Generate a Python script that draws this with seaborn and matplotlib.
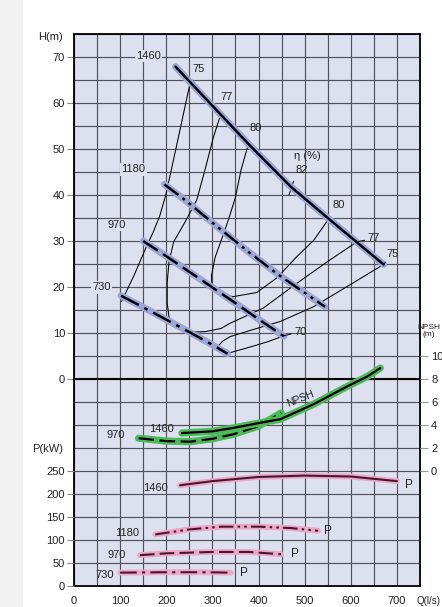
import matplotlib
matplotlib.use("Agg")
import matplotlib.pyplot as plt
import seaborn as sns
from matplotlib.patches import Rectangle

sns.set_style("white")
plt.rcParams["font.family"] = ["Liberation Sans", "DejaVu Sans"]
plt.rcParams["font.size"] = 8

# ---- Head curves H(Q), Q in l/s, H in m, per pump speed (rpm) ----
q_h1460 = [220, 300, 380, 470, 550, 671]
h_h1460 = [67.9, 59.4, 50.9, 41.8, 35.0, 24.9]
q_h1180 = [196, 242, 307, 380, 444, 544]
h_h1180 = [42.3, 38.8, 33.4, 27.5, 22.6, 15.7]
q_h970 = [150, 200, 250, 300, 350, 400, 455]
h_h970 = [30.0, 26.7, 23.3, 19.9, 16.5, 13.0, 9.3]
q_h730 = [102, 150, 200, 250, 290, 333]
h_h730 = [18.1, 15.6, 12.9, 10.2, 8.0, 5.5]

# ---- Iso-efficiency contours (%) ----
q_e75a = [252, 238, 224, 211, 199, 186, 172, 158, 130, 103]
h_e75a = [64.5, 58.0, 51.5, 45.5, 40.0, 35.5, 32.0, 29.0, 22.5, 16.8]
q_e75b = [310, 322, 338, 390, 447, 519, 592, 671]
h_e75b = [6.9, 8.2, 9.2, 10.8, 12.5, 15.7, 20.1, 24.9]
q_e77 = [318, 302, 284, 266, 240, 216, 206, 202, 202, 206, 216, 232, 251,
         285, 319, 338, 410, 483, 555, 613]
h_e77 = [57.5, 52.5, 45.5, 38.9, 34.0, 29.8, 25.5, 21.0, 16.5, 13.4, 11.9,
         11.0, 10.2, 10.3, 11.0, 12.1, 15.4, 20.8, 25.9, 29.8]
q_e80 = [378, 362, 350, 336, 324, 306, 298, 299, 314, 345, 396, 440, 482,
         520, 552]
h_e80 = [51.1, 45.4, 39.5, 35.0, 31.5, 26.5, 22.5, 20.1, 18.6, 17.9, 18.8,
         22.0, 26.5, 30.2, 34.8]
q_e82 = [466, 476]
h_e82 = [40.0, 43.0]
q_e70 = [334, 380, 420, 455]
h_e70 = [5.6, 6.9, 8.1, 9.4]

# ---- Shaft power P(Q), kW ----
q_p1460 = [230, 300, 400, 500, 600, 700]
p_p1460 = [219, 228, 237, 240, 238, 228]
q_p1180 = [176, 250, 320, 400, 470, 529]
p_p1180 = [112, 123, 129, 129, 126, 120]
q_p970 = [143, 200, 300, 380, 449]
p_p970 = [67, 71, 74, 74, 69]
q_p730 = [100, 200, 280, 340]
p_p730 = [29, 30, 30, 29]

# ---- NPSH required, m ----
q_n1460 = [234, 300, 346, 418, 447, 519, 592, 635, 664]
n_n1460 = [3.3, 3.45, 3.75, 4.3, 4.5, 5.8, 7.35, 8.2, 8.95]
q_n970 = [140, 200, 252, 300, 346, 400, 449]
n_n970 = [2.85, 2.6, 2.55, 2.8, 3.2, 3.9, 5.05]

# Axis ticks
q_ticks = [0, 100, 200, 300, 400, 500, 600, 700]
h_ticks = [0, 10, 20, 30, 40, 50, 60, 70]
p_ticks = [0, 50, 100, 150, 200, 250]
n_ticks = [0, 2, 4, 6, 8, 10]

BG = "#dde0ef"
GRID = "#52525c"
TXT = "#222222"
HALO_H = "#9da7d6"
HALO_P = "#eba9ca"
CORE_P = "#4b1530"
HALO_N = "#4cba58"

LS = {
    "1460": "-",
    "1180": (0, (7, 2, 1.2, 2, 1.2, 2)),
    "970": (0, (7, 2.5)),
    "730": (0, (8, 2.5, 1.5, 2.5)),
}

fig = plt.figure(figsize=(4.42, 6.07), dpi=100)
fig.patches.append(Rectangle((0, 0), 22 / 442, 1, transform=fig.transFigure,
                             color="#f1f1f1", zorder=0))
ax = fig.add_axes([74 / 442, 1 - 586 / 607, 346 / 442, 552 / 607])
ax.set_facecolor(BG)
ax.set_xlim(0, 750)
ax.set_ylim(-45, 75)
ax.set_xticks(q_ticks)
ax.set_xticks(range(0, 751, 50), minor=True)
ax.set_yticks(h_ticks)
ax.set_yticks(range(-45, 76, 5), minor=True)
ax.grid(which="both", color=GRID, lw=0.85)
ax.set_axisbelow(True)
ax.tick_params(axis="y", which="major", length=5, width=0.8, color="#888888",
               pad=1.5, labelsize=8, labelcolor=TXT)
ax.tick_params(axis="x", which="major", length=0, pad=7, labelsize=8,
               labelcolor=TXT)
ax.tick_params(which="minor", length=0)
for s in ax.spines.values():
    s.set_color("black")
    s.set_linewidth(1.3)
ax.axhline(0, color="black", lw=1.5, zorder=2)

# Power axis (lower left) and NPSH axis (right) share the Q axis
ax_p = ax.twinx()
ax_p.set_ylim(0, 1200)
ax_p.yaxis.tick_left()
ax_p.set_yticks(p_ticks)
ax_p.tick_params(axis="y", length=5, width=0.8, color="#888888", pad=1.5,
                 labelsize=8, labelcolor=TXT)
ax_n = ax.twinx()
ax_n.set_ylim(-10, 38)
ax_n.set_yticks(n_ticks)
ax_n.tick_params(axis="y", length=6, width=0.8, color="#999999", pad=2,
                 labelsize=8, labelcolor=TXT)
for a in (ax_p, ax_n):
    a.grid(False)
    for s in a.spines.values():
        s.set_visible(False)


def curve(a, q, v, halo, core, ls, halo_w=5.0, core_w=1.8):
    if halo is not None:
        sns.lineplot(x=q, y=v, ax=a, color=halo, lw=halo_w, sort=False,
                     estimator=None, solid_capstyle="round")
    sns.lineplot(x=q, y=v, ax=a, color=core, lw=core_w, sort=False,
                 estimator=None, linestyle=ls)


def h_to_npsh(h):
    # head scale expressed on the NPSH axis (0 m head sits at 8 m NPSH)
    return [y / 2.5 + 8 for y in h]


# Iso-efficiency lines
for q, h in [(q_e75a, h_e75a), (q_e75b, h_e75b), (q_e77, h_e77),
             (q_e80, h_e80), (q_e82, h_e82), (q_e70, h_e70)]:
    curve(ax_n, q, h_to_npsh(h), None, "black", "-", core_w=0.75)

# Head curves
for key, q, h in [("1460", q_h1460, h_h1460), ("1180", q_h1180, h_h1180),
                  ("970", q_h970, h_h970), ("730", q_h730, h_h730)]:
    curve(ax_n, q, h_to_npsh(h), HALO_H, "black", LS[key])

# Power curves
for key, q, p in [("1460", q_p1460, p_p1460), ("1180", q_p1180, p_p1180),
                  ("970", q_p970, p_p970), ("730", q_p730, p_p730)]:
    curve(ax_p, q, p, HALO_P, CORE_P, LS[key], halo_w=4.2, core_w=1.5)

# NPSH curves
curve(ax_n, q_n970, n_n970, HALO_N, "black", LS["970"], halo_w=5.2,
      core_w=1.6)
curve(ax_n, q_n1460, n_n1460, HALO_N, "black", "-", halo_w=5.2, core_w=1.6)

for a in (ax, ax_p, ax_n):
    a.set_xlabel("")
    a.set_ylabel("")
ax.set_xlim(0, 750)

box = dict(boxstyle="square,pad=0.12", fc=BG, ec="none")
# Speed labels on head curves
for txt, x, y in [("1460", 161, 70.2), ("1180", 129, 45.6),
                  ("970", 92, 33.5), ("730", 60, 19.9)]:
    ax.text(x, y, txt, ha="center", va="center", color=TXT, bbox=box,
            zorder=3)
# Efficiency labels
for txt, x, y in [("75", 270, 67.5), ("77", 331, 61.2), ("80", 394, 54.5),
                  ("η (%)", 505, 48.4), ("82", 493, 45.4), ("80", 574, 37.8)]:
    ax.text(x, y, txt, ha="center", va="center", color=TXT)
for txt, xy, xt in [("77", (613, 29.8), (637, 30.6)),
                    ("75", (671, 24.9), (678, 27.2)),
                    ("70", (455, 9.4), (478, 10.3))]:
    ax_n.annotate(txt, xy=(xy[0], xy[1] / 2.5 + 8),
                  xytext=(xt[0], xt[1] / 2.5 + 8), ha="left", va="center",
                  color=TXT,
                  arrowprops=dict(arrowstyle="-", lw=0.7, color="black",
                                  shrinkA=0, shrinkB=0))
# Power labels
for txt, x, y in [("1460", 177, 214), ("1180", 116, 115), ("970", 93, 67),
                  ("730", 67, 25)]:
    ax_p.text(x, y, txt, ha="center", va="center", color=TXT)
for x, y in [(725, 219), (550, 120), (479, 70), (368, 29)]:
    ax_p.text(x, y, "P", ha="center", va="center", color=TXT, fontsize=8.5)
# NPSH labels
ax_n.text(91, 3.1, "970", ha="center", va="center", color=TXT)
ax_n.text(190, 3.65, "1460", ha="center", va="center", color=TXT)
ax_n.text(490, 6.25, "NPSH", ha="center", va="center", color=TXT,
          rotation=22, fontsize=7.5)

# Axis titles
ax.text(-52, 74.4, "H(m)", ha="center", va="center", color=TXT,
        clip_on=False)
ax.text(-57, -15.3, "P(kW)", ha="center", va="center", color=TXT,
        clip_on=False)
ax.text(769, 10.5, "NPSH\n(m)", ha="center", va="center", color=TXT,
        clip_on=False, fontsize=6, linespacing=0.95)
ax.text(743, -48.3, "Q(l/s)", ha="left", va="center", color=TXT,
        clip_on=False, fontsize=7)

fig.savefig("out.png", dpi=100, facecolor="white")
